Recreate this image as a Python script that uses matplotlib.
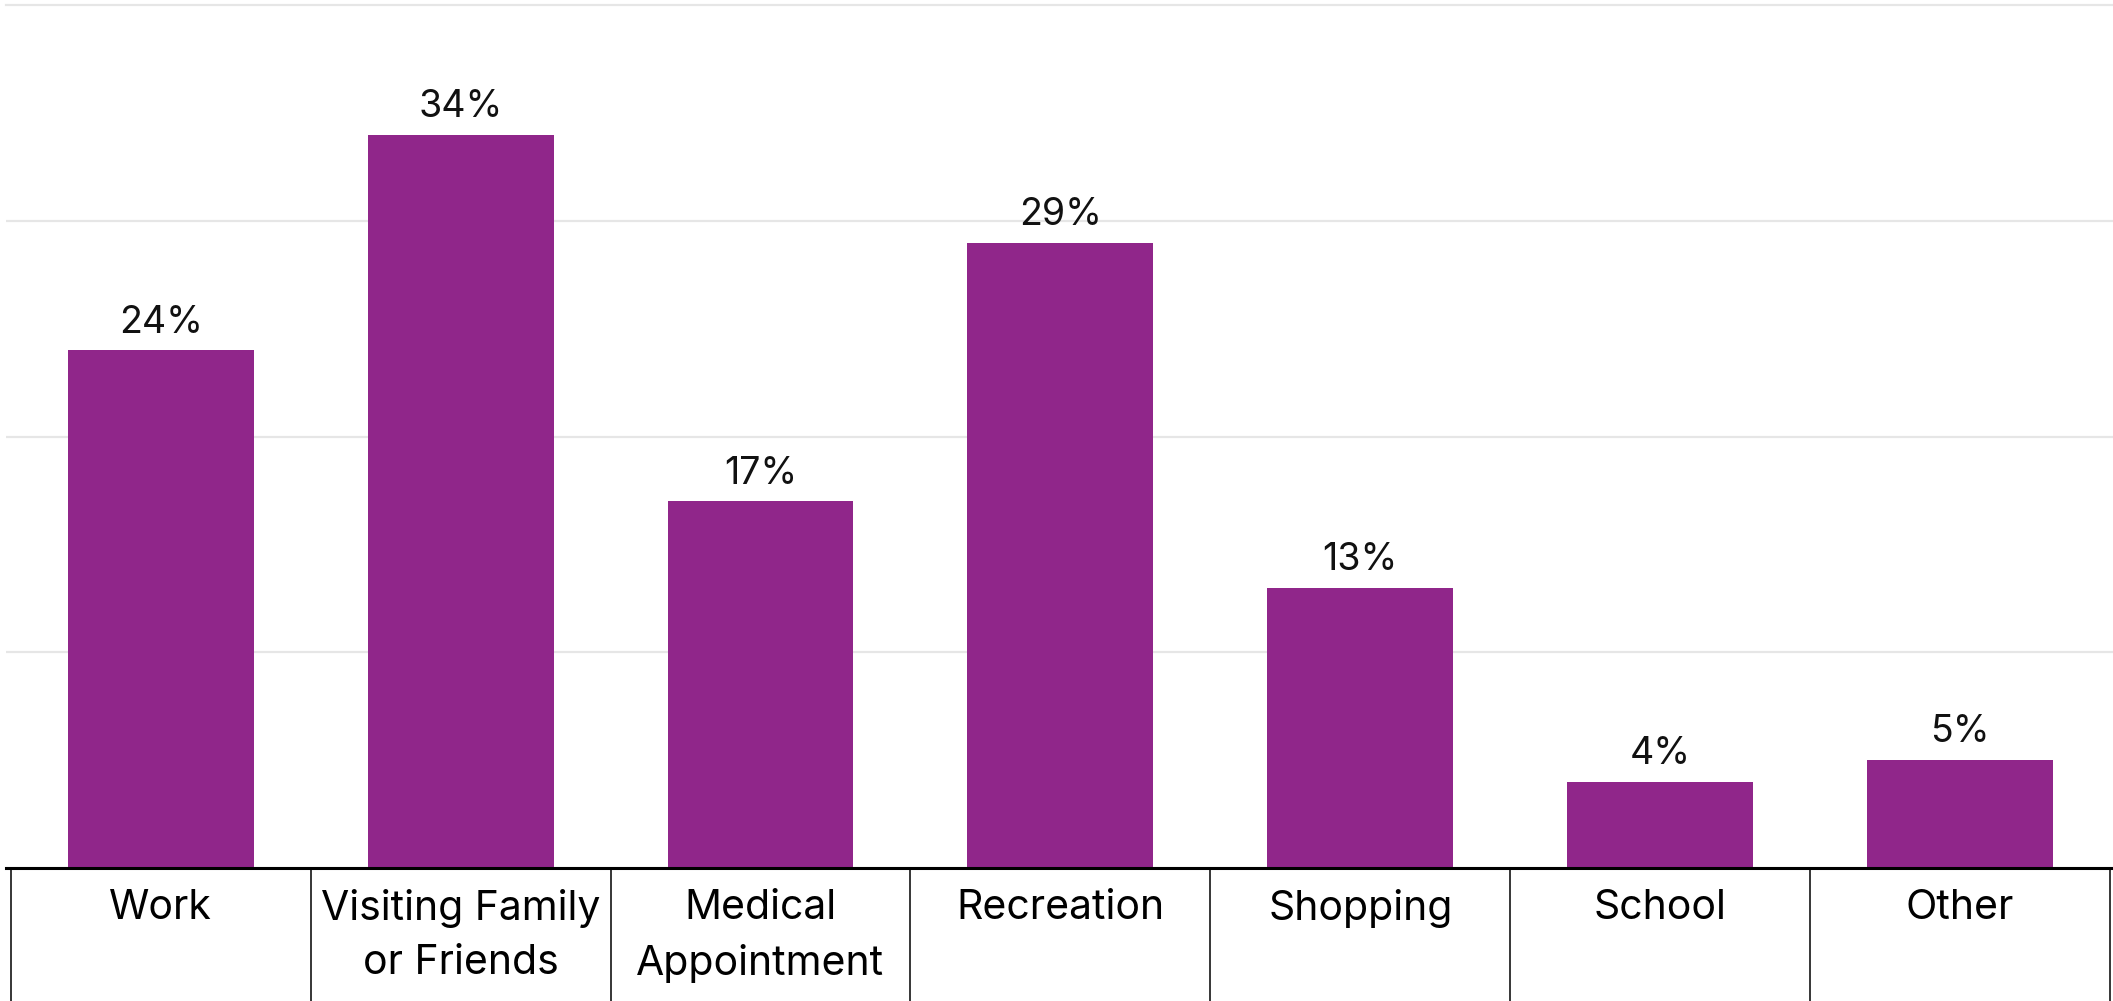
import matplotlib
matplotlib.use("Agg")
import matplotlib.pyplot as plt
from matplotlib.ticker import FixedLocator

# trip purposes and share of respondents (%)
categories = ["Work", "Visiting Family\nor Friends", "Medical\nAppointment",
              "Recreation", "Shopping", "School", "Other"]
shares = [24, 34, 17, 29, 13, 4, 5]
value_labels = ["24%", "34%", "17%", "29%", "13%", "4%", "5%"]
y_ticks = [0, 10, 20, 30, 40]

purple = "#90268a"
plt.rcParams["font.family"] = ["Inter", "DejaVu Sans"]

fig = plt.figure(figsize=(21.13, 10.01), dpi=100)
ax = fig.add_axes([6 / 2113, 133 / 1001, 2107 / 2113, 862.6 / 1001])

x = list(range(len(categories)))
bars = ax.bar(x, shares, width=0.62, color=purple, zorder=3)

for b, lab in zip(bars, value_labels):
    ax.annotate(lab, (b.get_x() + b.get_width() / 2, b.get_height()),
                xytext=(0, 7), textcoords="offset points",
                ha="center", va="bottom", fontsize=27, color="#111111")

ax.set_xlim(-0.516, 6.51)
ax.set_ylim(0, 40)

# y grid only, no labels
ax.set_yticks(y_ticks)
ax.yaxis.grid(True, color="#e6e6e6", linewidth=1.6, zorder=0)
ax.tick_params(axis="y", length=0, labelleft=False)
ax.get_ygridlines()[-1].set_clip_on(False)

# category labels between long divider ticks
ax.set_xticks(x)
ax.set_xticklabels(categories, fontsize=29.5, linespacing=1.55, va="top")
ax.tick_params(axis="x", which="major", length=0, pad=15)
ax.xaxis.set_minor_locator(FixedLocator([i - 0.5 for i in range(len(categories) + 1)]))
ax.tick_params(axis="x", which="minor", length=96, width=1.1, color="black")

for side in ["top", "right", "left"]:
    ax.spines[side].set_visible(False)
ax.spines["bottom"].set_linewidth(2.2)
ax.spines["bottom"].set_zorder(4)

fig.savefig("out.png", dpi=100)
